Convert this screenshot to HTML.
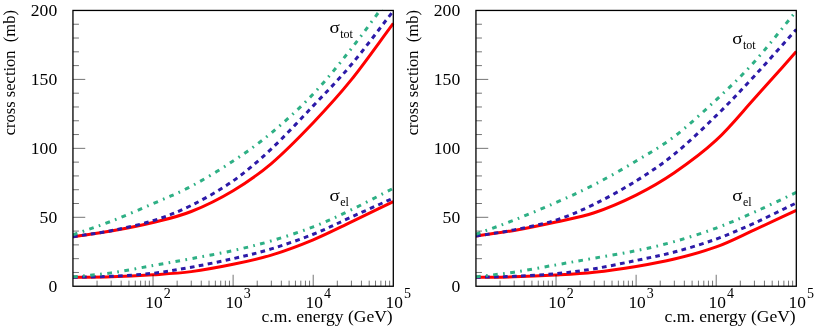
<!DOCTYPE html>
<html><head><meta charset="utf-8"><title>cross sections</title>
<style>
html,body{margin:0;padding:0;background:#fff;}
body{width:817px;height:327px;overflow:hidden;}
svg{display:block;will-change:transform;}
text{font-family:"Liberation Serif",serif;fill:#000;}
</style></head><body>
<svg width="817" height="327" viewBox="0 0 817 327">
<g transform="translate(0.0,0)">
<clipPath id="c0"><rect x="72.95" y="9.25" width="321.35" height="277.80"/></clipPath>
<g clip-path="url(#c0)" fill="none" stroke-width="3.00" stroke-linejoin="round">
<path d="M72.95 236.74 C85.69 234.86 97.81 233.46 111.16 231.09 C124.51 228.72 139.69 225.80 153.04 222.54 C166.39 219.28 177.90 216.82 191.25 211.51 C204.60 206.20 219.78 198.68 233.12 190.69 C246.47 182.69 257.99 174.85 271.34 163.52 C284.68 152.19 299.86 136.67 313.21 122.70 C326.56 108.73 338.08 96.22 351.42 79.68 C364.77 63.13 379.34 42.17 393.30 23.41" stroke="#ff0000"/>
<path d="M72.95 277.29 C85.69 277.15 97.81 277.29 111.16 276.87 C124.51 276.46 139.69 275.68 153.04 274.80 C166.39 273.93 177.90 273.38 191.25 271.63 C204.60 269.89 219.78 267.08 233.12 264.32 C246.47 261.57 257.99 259.18 271.34 255.08 C284.68 250.99 299.86 245.32 313.21 239.78 C326.56 234.24 338.08 228.22 351.42 221.85 C364.77 215.48 379.34 208.34 393.30 201.58" stroke="#ff0000"/>
<path d="M72.95 236.74 C85.69 234.72 97.81 233.34 111.16 230.68 C124.51 228.01 139.69 224.95 153.04 220.75 C166.39 216.54 177.90 212.08 191.25 205.44 C204.60 198.80 219.78 190.32 233.12 180.89 C246.47 171.47 257.99 161.40 271.34 148.90 C284.68 136.40 299.86 119.94 313.21 105.88 C326.56 91.81 338.08 80.32 351.42 64.51 C364.77 48.69 379.34 28.84 393.30 11.00" stroke="#2c1aa8" stroke-dasharray="4.7 4.35"/>
<path d="M72.95 277.29 C85.69 276.96 97.81 276.99 111.16 276.32 C124.51 275.65 139.69 274.80 153.04 273.29 C166.39 271.77 177.90 269.66 191.25 267.22 C204.60 264.78 219.78 261.73 233.12 258.67 C246.47 255.61 257.99 252.95 271.34 248.88 C284.68 244.81 299.86 239.57 313.21 234.26 C326.56 228.95 338.08 223.05 351.42 217.02 C364.77 211.00 379.34 204.43 393.30 198.13" stroke="#2c1aa8" stroke-dasharray="4.7 4.35"/>
<path d="M72.95 234.81 C85.69 230.31 97.81 226.49 111.16 221.30 C124.51 216.10 139.69 209.49 153.04 203.65 C166.39 197.81 177.90 193.37 191.25 186.27 C204.60 179.17 219.78 169.93 233.12 161.04 C246.47 152.14 257.99 144.08 271.34 132.91 C284.68 121.74 299.86 108.08 313.21 94.02 C326.56 79.95 338.08 65.47 351.42 48.51 C364.77 31.55 379.34 11.00 393.30 -7.75" stroke="#2eb085" stroke-dasharray="4.7 5.45 1.7 5.45" stroke-dashoffset="0"/>
<path d="M72.95 276.87 C85.69 275.54 97.81 274.76 111.16 272.87 C124.51 270.99 139.69 267.93 153.04 265.56 C166.39 263.20 177.90 261.18 191.25 258.67 C204.60 256.16 219.78 253.50 233.12 250.53 C246.47 247.57 257.99 244.83 271.34 240.88 C284.68 236.93 299.86 232.01 313.21 226.82 C326.56 221.62 338.08 216.13 351.42 209.72 C364.77 203.30 379.34 195.47 393.30 188.34" stroke="#2eb085" stroke-dasharray="4.7 5.45 1.7 5.45" stroke-dashoffset="0"/>
</g>
<path d="M72.95 272.46 h6.00 M72.95 258.67 h6.00 M72.95 244.88 h6.00 M72.95 231.09 h6.00 M72.95 217.30 h12.30 M72.95 203.51 h6.00 M72.95 189.72 h6.00 M72.95 175.93 h6.00 M72.95 162.14 h6.00 M72.95 148.35 h12.30 M72.95 134.56 h6.00 M72.95 120.77 h6.00 M72.95 106.98 h6.00 M72.95 93.19 h6.00 M72.95 79.40 h12.30 M72.95 65.61 h6.00 M72.95 51.82 h6.00 M72.95 38.03 h6.00 M72.95 24.24 h6.00 M97.06 286.25 v-5.60 M111.16 286.25 v-5.60 M121.17 286.25 v-5.60 M128.93 286.25 v-5.60 M135.27 286.25 v-5.60 M140.63 286.25 v-5.60 M145.28 286.25 v-5.60 M149.37 286.25 v-5.60 M153.04 286.25 v-11.50 M177.15 286.25 v-5.60 M191.25 286.25 v-5.60 M201.25 286.25 v-5.60 M209.02 286.25 v-5.60 M215.36 286.25 v-5.60 M220.72 286.25 v-5.60 M225.36 286.25 v-5.60 M229.46 286.25 v-5.60 M233.12 286.25 v-11.50 M257.23 286.25 v-5.60 M271.34 286.25 v-5.60 M281.34 286.25 v-5.60 M289.10 286.25 v-5.60 M295.45 286.25 v-5.60 M300.81 286.25 v-5.60 M305.45 286.25 v-5.60 M309.55 286.25 v-5.60 M313.21 286.25 v-11.50 M337.32 286.25 v-5.60 M351.42 286.25 v-5.60 M361.43 286.25 v-5.60 M369.19 286.25 v-5.60 M375.53 286.25 v-5.60 M380.89 286.25 v-5.60 M385.54 286.25 v-5.60 M389.64 286.25 v-5.60" stroke="#000" stroke-width="0.55" fill="none"/>
<rect x="72.95" y="10.45" width="320.35" height="275.80" fill="none" stroke="#000" stroke-width="1.3"/>
<text x="57.2" y="292.10" text-anchor="end" font-size="17.6">0</text>
<text x="57.2" y="223.15" text-anchor="end" font-size="17.6">50</text>
<text x="57.2" y="154.20" text-anchor="end" font-size="17.6">100</text>
<text x="57.2" y="85.25" text-anchor="end" font-size="17.6">150</text>
<text x="57.2" y="16.30" text-anchor="end" font-size="17.6">200</text>
<text x="145.34" y="308.1" font-size="17.4">10</text>
<text x="163.74" y="297.8" font-size="14">2</text>
<text x="225.43" y="308.1" font-size="17.4">10</text>
<text x="243.82" y="297.8" font-size="14">3</text>
<text x="305.51" y="308.1" font-size="17.4">10</text>
<text x="323.91" y="297.8" font-size="14">4</text>
<text x="385.60" y="308.1" font-size="17.4">10</text>
<text x="404.00" y="297.8" font-size="14">5</text>
<text x="392.70" y="321.7" text-anchor="end" font-size="17.55">c.m. energy (GeV)</text>
<text transform="translate(15,135.2) rotate(-90)" font-size="16.5" xml:space="preserve">cross section  (mb)</text>
</g>
<g transform="translate(403.0,0)">
<clipPath id="c1"><rect x="72.95" y="9.25" width="321.35" height="277.80"/></clipPath>
<g clip-path="url(#c1)" fill="none" stroke-width="3.00" stroke-linejoin="round">
<path d="M72.95 236.05 C85.69 234.17 97.81 232.74 111.16 230.40 C124.51 228.06 139.69 224.93 153.04 221.99 C166.39 219.05 177.90 217.23 191.25 212.75 C204.60 208.27 219.78 201.76 233.12 195.10 C246.47 188.43 257.99 181.91 271.34 172.76 C284.68 163.61 299.86 152.58 313.21 140.21 C326.56 127.85 338.08 113.35 351.42 98.57 C364.77 83.79 379.34 67.22 393.30 51.54" stroke="#ff0000"/>
<path d="M72.95 277.29 C85.69 277.15 97.81 277.24 111.16 276.87 C124.51 276.51 139.69 275.84 153.04 275.08 C166.39 274.32 177.90 273.75 191.25 272.32 C204.60 270.90 219.78 268.74 233.12 266.53 C246.47 264.32 257.99 262.35 271.34 259.08 C284.68 255.82 299.86 251.82 313.21 246.95 C326.56 242.08 338.08 235.94 351.42 229.85 C364.77 223.76 379.34 216.89 393.30 210.41" stroke="#ff0000"/>
<path d="M72.95 236.05 C85.69 233.99 97.81 232.51 111.16 229.85 C124.51 227.18 139.69 224.33 153.04 220.06 C166.39 215.78 177.90 210.73 191.25 204.20 C204.60 197.67 219.78 189.24 233.12 180.89 C246.47 172.55 257.99 165.01 271.34 154.14 C284.68 143.27 299.86 128.70 313.21 115.67 C326.56 102.64 338.08 90.32 351.42 75.95 C364.77 61.59 379.34 44.97 393.30 29.48" stroke="#2c1aa8" stroke-dasharray="4.7 4.35"/>
<path d="M72.95 277.29 C85.69 276.96 97.81 276.92 111.16 276.32 C124.51 275.72 139.69 274.97 153.04 273.70 C166.39 272.44 177.90 270.94 191.25 268.74 C204.60 266.53 219.78 263.24 233.12 260.46 C246.47 257.68 257.99 255.61 271.34 252.05 C284.68 248.49 299.86 243.91 313.21 239.09 C326.56 234.26 338.08 229.11 351.42 223.09 C364.77 217.07 379.34 209.67 393.30 202.96" stroke="#2c1aa8" stroke-dasharray="4.7 4.35"/>
<path d="M72.95 234.26 C85.69 229.53 97.81 225.34 111.16 220.06 C124.51 214.77 139.69 208.45 153.04 202.54 C166.39 196.64 177.90 191.54 191.25 184.62 C204.60 177.70 219.78 169.06 233.12 161.04 C246.47 153.02 257.99 146.70 271.34 136.49 C284.68 126.29 299.86 112.27 313.21 99.81 C326.56 87.35 338.08 76.55 351.42 61.75 C364.77 46.95 379.34 27.92 393.30 11.00" stroke="#2eb085" stroke-dasharray="4.7 5.45 1.7 5.45" stroke-dashoffset="0"/>
<path d="M72.95 276.87 C85.69 275.31 97.81 274.18 111.16 272.18 C124.51 270.18 139.69 267.22 153.04 264.88 C166.39 262.53 177.90 260.49 191.25 258.12 C204.60 255.75 219.78 253.43 233.12 250.67 C246.47 247.91 257.99 245.34 271.34 241.57 C284.68 237.80 299.86 232.97 313.21 228.06 C326.56 223.14 338.08 217.99 351.42 212.06 C364.77 206.13 379.34 199.01 393.30 192.48" stroke="#2eb085" stroke-dasharray="4.7 5.45 1.7 5.45" stroke-dashoffset="0"/>
</g>
<path d="M72.95 272.46 h6.00 M72.95 258.67 h6.00 M72.95 244.88 h6.00 M72.95 231.09 h6.00 M72.95 217.30 h12.30 M72.95 203.51 h6.00 M72.95 189.72 h6.00 M72.95 175.93 h6.00 M72.95 162.14 h6.00 M72.95 148.35 h12.30 M72.95 134.56 h6.00 M72.95 120.77 h6.00 M72.95 106.98 h6.00 M72.95 93.19 h6.00 M72.95 79.40 h12.30 M72.95 65.61 h6.00 M72.95 51.82 h6.00 M72.95 38.03 h6.00 M72.95 24.24 h6.00 M97.06 286.25 v-5.60 M111.16 286.25 v-5.60 M121.17 286.25 v-5.60 M128.93 286.25 v-5.60 M135.27 286.25 v-5.60 M140.63 286.25 v-5.60 M145.28 286.25 v-5.60 M149.37 286.25 v-5.60 M153.04 286.25 v-11.50 M177.15 286.25 v-5.60 M191.25 286.25 v-5.60 M201.25 286.25 v-5.60 M209.02 286.25 v-5.60 M215.36 286.25 v-5.60 M220.72 286.25 v-5.60 M225.36 286.25 v-5.60 M229.46 286.25 v-5.60 M233.12 286.25 v-11.50 M257.23 286.25 v-5.60 M271.34 286.25 v-5.60 M281.34 286.25 v-5.60 M289.10 286.25 v-5.60 M295.45 286.25 v-5.60 M300.81 286.25 v-5.60 M305.45 286.25 v-5.60 M309.55 286.25 v-5.60 M313.21 286.25 v-11.50 M337.32 286.25 v-5.60 M351.42 286.25 v-5.60 M361.43 286.25 v-5.60 M369.19 286.25 v-5.60 M375.53 286.25 v-5.60 M380.89 286.25 v-5.60 M385.54 286.25 v-5.60 M389.64 286.25 v-5.60" stroke="#000" stroke-width="0.55" fill="none"/>
<rect x="72.95" y="10.45" width="320.35" height="275.80" fill="none" stroke="#000" stroke-width="1.3"/>
<text x="57.2" y="292.10" text-anchor="end" font-size="17.6">0</text>
<text x="57.2" y="223.15" text-anchor="end" font-size="17.6">50</text>
<text x="57.2" y="154.20" text-anchor="end" font-size="17.6">100</text>
<text x="57.2" y="85.25" text-anchor="end" font-size="17.6">150</text>
<text x="57.2" y="16.30" text-anchor="end" font-size="17.6">200</text>
<text x="145.34" y="308.1" font-size="17.4">10</text>
<text x="163.74" y="297.8" font-size="14">2</text>
<text x="225.43" y="308.1" font-size="17.4">10</text>
<text x="243.82" y="297.8" font-size="14">3</text>
<text x="305.51" y="308.1" font-size="17.4">10</text>
<text x="323.91" y="297.8" font-size="14">4</text>
<text x="385.60" y="308.1" font-size="17.4">10</text>
<text x="404.00" y="297.8" font-size="14">5</text>
<text x="392.70" y="321.7" text-anchor="end" font-size="17.55">c.m. energy (GeV)</text>
<text transform="translate(15,135.2) rotate(-90)" font-size="16.5" xml:space="preserve">cross section  (mb)</text>
</g>
<text transform="translate(329.50,32.80) scale(1.15,1)" font-size="16.6">σ</text><text x="340.20" y="38.10" font-size="12">tot</text>
<text transform="translate(329.50,200.70) scale(1.15,1)" font-size="16.6">σ</text><text x="340.20" y="206.00" font-size="12">el</text>
<text transform="translate(732.20,43.80) scale(1.15,1)" font-size="16.6">σ</text><text x="742.90" y="49.10" font-size="12">tot</text>
<text transform="translate(732.20,200.70) scale(1.15,1)" font-size="16.6">σ</text><text x="742.90" y="206.00" font-size="12">el</text>
</svg>
</body></html>
